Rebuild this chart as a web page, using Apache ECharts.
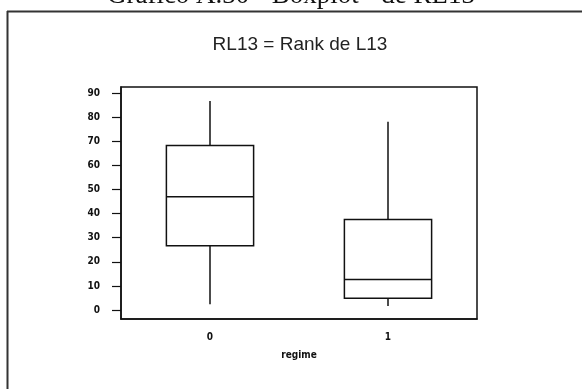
<!DOCTYPE html>
<html>
<head>
<meta charset="utf-8">
<script src="https://cdn.jsdelivr.net/npm/echarts@6/dist/echarts.min.js"></script>
<style>html,body{margin:0;padding:0;background:#fff;}#c{width:582px;height:389px;}</style>
</head>
<body>
<div id="c"></div>
<script>
const categories = ['0', '1'];
const whiskerLow = [2.4, 1.7];
const q1 = [26.7, 4.9];
const median = [47.0, 12.7];
const q3 = [68.2, 37.6];
const whiskerHigh = [86.7, 78.1];
const yTicks = [0, 10, 20, 30, 40, 50, 60, 70, 80, 90];

const chart = echarts.init(document.getElementById('c'), null, {renderer: 'canvas'});
const data = categories.map((c, i) => [i, whiskerLow[i], q1[i], median[i], q3[i], whiskerHigh[i]]);
const lineStyle = {stroke: '#111', lineWidth: 1.5, fill: null};
const labelFont = {color: '#111', fontSize: 10, fontWeight: 'bold', fontFamily: '"DejaVu Sans Condensed", "Liberation Sans", sans-serif'};

chart.setOption({
  backgroundColor: '#fff',
  animation: false,
  graphic: [
    {type: 'text', left: 'center', top: -18, style: {text: 'Gráfico A.30 - Boxplot - de RL13', font: '27px "Liberation Serif"', fill: '#111'}},
    {type: 'line', shape: {x1: 7, y1: 11.5, x2: 582, y2: 11.5}, style: {stroke: '#333', lineWidth: 2}},
    {type: 'line', shape: {x1: 7.5, y1: 11, x2: 7.5, y2: 389}, style: {stroke: '#333', lineWidth: 2}},
    {type: 'text', x: 300, y: 45, style: {text: 'RL13 = Rank de L13', font: '19px "Liberation Sans"', fill: '#222', align: 'center', verticalAlign: 'middle'}}
  ],
  grid: {left: 121, right: 105, top: 87, bottom: 70, show: true, borderColor: '#111', borderWidth: 1.5, backgroundColor: 'transparent'},
  xAxis: {
    type: 'category', data: categories,
    axisLine: {show: true, onZero: false, lineStyle: {color: '#111', width: 1.5}},
    axisTick: {alignWithLabel: true, length: 6, lineStyle: {color: '#111', width: 1.2}},
    axisLabel: Object.assign({margin: 13}, labelFont),
    name: 'regime', nameLocation: 'middle', nameGap: 31,
    nameTextStyle: labelFont,
    splitLine: {show: false}
  },
  yAxis: {
    type: 'value', min: -3.7, max: 92.5,
    axisLine: {show: true, lineStyle: {color: '#111', width: 1.5}},
    axisTick: {show: true, length: 9, customValues: yTicks, lineStyle: {color: '#111', width: 1.2}},
    axisLabel: Object.assign({customValues: yTicks, margin: 21}, labelFont),
    splitLine: {show: false}
  },
  series: [{
    type: 'custom',
    data: data,
    encode: {x: 0, y: [1, 2, 3, 4, 5]},
    renderItem: function (params, api) {
      const x = api.value(0);
      const pLo = api.coord([x, api.value(1)]);
      const pQ1 = api.coord([x, api.value(2)]);
      const pMed = api.coord([x, api.value(3)]);
      const pQ3 = api.coord([x, api.value(4)]);
      const pHi = api.coord([x, api.value(5)]);
      const hw = api.size([1, 0])[0] * 0.245;
      const cx = pLo[0];
      return {
        type: 'group',
        children: [
          {type: 'line', shape: {x1: cx, y1: pLo[1], x2: cx, y2: pQ1[1]}, style: lineStyle},
          {type: 'line', shape: {x1: cx, y1: pQ3[1], x2: cx, y2: pHi[1]}, style: lineStyle},
          {type: 'rect', shape: {x: cx - hw, y: pQ3[1], width: 2 * hw, height: pQ1[1] - pQ3[1]}, style: {stroke: '#111', lineWidth: 1.5, fill: 'transparent'}},
          {type: 'line', shape: {x1: cx - hw, y1: pMed[1], x2: cx + hw, y2: pMed[1]}, style: lineStyle}
        ]
      };
    }
  }]
});
</script>
</body>
</html>
